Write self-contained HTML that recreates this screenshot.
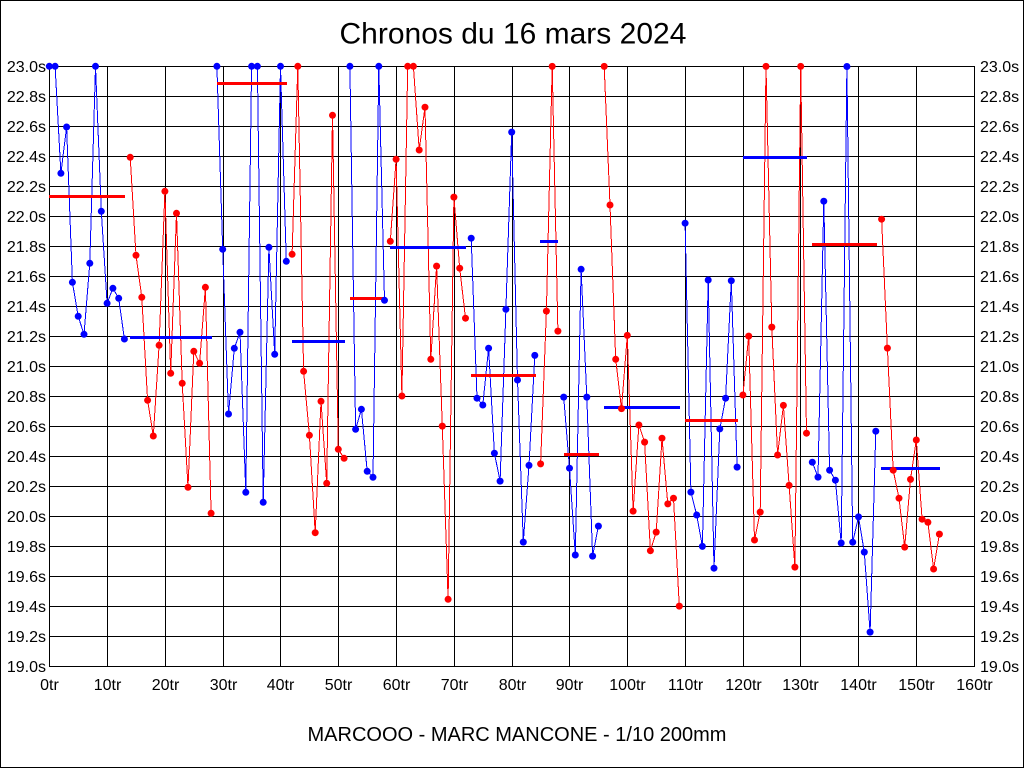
<!DOCTYPE html>
<html>
<head>
<meta charset="utf-8">
<style>
  html,body{margin:0;padding:0;background:#fff;}
  svg{display:block;}
  text{font-family:"Liberation Sans",Arial,sans-serif;fill:#000;}
</style>
</head>
<body>
<svg width="1024" height="768" viewBox="0 0 1024 768" xmlns="http://www.w3.org/2000/svg">
  <rect x="0" y="0" width="1024" height="768" fill="#fff"/>
  <rect x="0.5" y="0.5" width="1023" height="767" fill="none" stroke="#000" stroke-width="1"/>

  <text x="339.5" y="43.5" font-size="30">Chronos du 16 mars 2024</text>

  <!-- grid -->
  <g stroke="#000" stroke-width="1" shape-rendering="crispEdges">
    <line x1="49" y1="66.5" x2="975" y2="66.5"/>
    <line x1="49" y1="96.5" x2="975" y2="96.5"/>
    <line x1="49" y1="126.5" x2="975" y2="126.5"/>
    <line x1="49" y1="156.5" x2="975" y2="156.5"/>
    <line x1="49" y1="186.5" x2="975" y2="186.5"/>
    <line x1="49" y1="216.5" x2="975" y2="216.5"/>
    <line x1="49" y1="246.5" x2="975" y2="246.5"/>
    <line x1="49" y1="276.5" x2="975" y2="276.5"/>
    <line x1="49" y1="306.5" x2="975" y2="306.5"/>
    <line x1="49" y1="336.5" x2="975" y2="336.5"/>
    <line x1="49" y1="366.5" x2="975" y2="366.5"/>
    <line x1="49" y1="396.5" x2="975" y2="396.5"/>
    <line x1="49" y1="426.5" x2="975" y2="426.5"/>
    <line x1="49" y1="456.5" x2="975" y2="456.5"/>
    <line x1="49" y1="486.5" x2="975" y2="486.5"/>
    <line x1="49" y1="516.5" x2="975" y2="516.5"/>
    <line x1="49" y1="546.5" x2="975" y2="546.5"/>
    <line x1="49" y1="576.5" x2="975" y2="576.5"/>
    <line x1="49" y1="606.5" x2="975" y2="606.5"/>
    <line x1="49" y1="636.5" x2="975" y2="636.5"/>
    <line x1="49" y1="666.5" x2="975" y2="666.5"/>

    <line x1="49.5" y1="66" x2="49.5" y2="667"/>
    <line x1="107.5" y1="66" x2="107.5" y2="667"/>
    <line x1="165.5" y1="66" x2="165.5" y2="667"/>
    <line x1="223.5" y1="66" x2="223.5" y2="667"/>
    <line x1="280.5" y1="66" x2="280.5" y2="667"/>
    <line x1="338.5" y1="66" x2="338.5" y2="667"/>
    <line x1="396.5" y1="66" x2="396.5" y2="667"/>
    <line x1="454.5" y1="66" x2="454.5" y2="667"/>
    <line x1="512.5" y1="66" x2="512.5" y2="667"/>
    <line x1="569.5" y1="66" x2="569.5" y2="667"/>
    <line x1="627.5" y1="66" x2="627.5" y2="667"/>
    <line x1="685.5" y1="66" x2="685.5" y2="667"/>
    <line x1="743.5" y1="66" x2="743.5" y2="667"/>
    <line x1="800.5" y1="66" x2="800.5" y2="667"/>
    <line x1="858.5" y1="66" x2="858.5" y2="667"/>
    <line x1="916.5" y1="66" x2="916.5" y2="667"/>
    <line x1="974.5" y1="66" x2="974.5" y2="667"/>
  </g>

  <!-- left labels -->
  <g font-size="16" text-anchor="end">
    <text x="46" y="72">23.0s</text>
    <text x="46" y="102">22.8s</text>
    <text x="46" y="132">22.6s</text>
    <text x="46" y="162">22.4s</text>
    <text x="46" y="192">22.2s</text>
    <text x="46" y="222">22.0s</text>
    <text x="46" y="252">21.8s</text>
    <text x="46" y="282">21.6s</text>
    <text x="46" y="312">21.4s</text>
    <text x="46" y="342">21.2s</text>
    <text x="46" y="372">21.0s</text>
    <text x="46" y="402">20.8s</text>
    <text x="46" y="432">20.6s</text>
    <text x="46" y="462">20.4s</text>
    <text x="46" y="492">20.2s</text>
    <text x="46" y="522">20.0s</text>
    <text x="46" y="552">19.8s</text>
    <text x="46" y="582">19.6s</text>
    <text x="46" y="612">19.4s</text>
    <text x="46" y="642">19.2s</text>
    <text x="46" y="672">19.0s</text>
  </g>
  <!-- right labels -->
  <g font-size="16" text-anchor="start">
    <text x="980" y="72">23.0s</text>
    <text x="980" y="102">22.8s</text>
    <text x="980" y="132">22.6s</text>
    <text x="980" y="162">22.4s</text>
    <text x="980" y="192">22.2s</text>
    <text x="980" y="222">22.0s</text>
    <text x="980" y="252">21.8s</text>
    <text x="980" y="282">21.6s</text>
    <text x="980" y="312">21.4s</text>
    <text x="980" y="342">21.2s</text>
    <text x="980" y="372">21.0s</text>
    <text x="980" y="402">20.8s</text>
    <text x="980" y="432">20.6s</text>
    <text x="980" y="462">20.4s</text>
    <text x="980" y="492">20.2s</text>
    <text x="980" y="522">20.0s</text>
    <text x="980" y="552">19.8s</text>
    <text x="980" y="582">19.6s</text>
    <text x="980" y="612">19.4s</text>
    <text x="980" y="642">19.2s</text>
    <text x="980" y="672">19.0s</text>
  </g>
  <!-- x labels -->
  <g font-size="16" text-anchor="middle">
    <text x="49.5" y="690">0tr</text>
    <text x="107.5" y="690">10tr</text>
    <text x="165.5" y="690">20tr</text>
    <text x="223.5" y="690">30tr</text>
    <text x="280.5" y="690">40tr</text>
    <text x="338.5" y="690">50tr</text>
    <text x="396.5" y="690">60tr</text>
    <text x="454.5" y="690">70tr</text>
    <text x="512.5" y="690">80tr</text>
    <text x="569.5" y="690">90tr</text>
    <text x="627.5" y="690">100tr</text>
    <text x="685.5" y="690">110tr</text>
    <text x="743.5" y="690">120tr</text>
    <text x="800.5" y="690">130tr</text>
    <text x="858.5" y="690">140tr</text>
    <text x="916.5" y="690">150tr</text>
    <text x="974.5" y="690">160tr</text>
  </g>

  <text x="307.5" y="741" font-size="20">MARCOOO - MARC MANCONE - 1/10 200mm</text>

  <!-- series lines -->
  <g fill="none" stroke-width="1" stroke-linejoin="miter" shape-rendering="crispEdges">
    <polyline stroke="#0000ff" points="49.3,66.3 55.1,66.3 60.9,173.3 66.6,127 72.4,282.3 78.2,316.3 84,334.3 89.8,263.3 95.5,66.3 101.3,211.3 107.1,303.3 112.9,288.3 118.7,298.3 124.4,339"/>
    <polyline stroke="#ff0000" points="130.2,157.3 136,255.3 141.8,297.3 147.6,400.3 153.3,436 159.1,345.3 164.9,191.3 170.7,373.3 176.5,213.3 182.2,383.3 188,487.3 193.8,351.3 199.6,363.3 205.4,287.3 211.1,513.3"/>
    <polyline stroke="#0000ff" points="216.9,66.3 222.7,249.3 228.5,414 234.3,348.3 240,332.3 245.8,492.3 251.6,66.3 257.4,66.3 263.2,502.3 268.9,247.3 274.7,354.3 280.5,66.3 286.3,261.3"/>
    <polyline stroke="#ff0000" points="292.1,254.3 297.8,66.3 303.6,371.3 309.4,435.3 315.2,532.7 321,401.3 326.7,483.3 332.5,115.3 338.3,449.3 344.1,458.3"/>
    <polyline stroke="#0000ff" points="349.9,66.3 355.6,429.3 361.4,409.3 367.2,471.3 373,477.3 378.8,66.3 384.5,300.3"/>
    <polyline stroke="#ff0000" points="390.3,241.3 396.1,159.3 401.9,396 407.7,66.3 413.4,66.3 419.2,150 425,107.2 430.8,359.3 436.6,266.1 442.3,426.1 448.1,599.3 453.9,197.1 459.7,268.2 465.5,318.2"/>
    <polyline stroke="#0000ff" points="471.2,238.2 477,398.2 482.8,405 488.6,348.2 494.4,453.2 500.1,481.1 505.9,309.3 511.7,132.1 517.5,380 523.3,542.1 529,465.4 534.8,355.4"/>
    <polyline stroke="#ff0000" points="540.6,463.9 546.4,311.1 552.2,66.4 557.9,331.1"/>
    <polyline stroke="#0000ff" points="563.7,397.1 569.5,468.2 575.3,555 581.1,269.3 586.8,397.1 592.6,556.1 598.4,526.1"/>
    <polyline stroke="#ff0000" points="604.2,66.4 610,205 615.7,359.3 621.5,408.6 627.3,335.4 633.1,511.1 638.9,425 644.6,442.1 650.4,550.7 656.2,532.1 662,438.2 667.8,503.9 673.5,498.2 679.3,606.1"/>
    <polyline stroke="#0000ff" points="685.1,223.2 690.9,492.1 696.7,515 702.4,546.4 708.2,280 714,568.2 719.8,428.9 725.6,398.2 731.3,280.7 737.1,467.1"/>
    <polyline stroke="#ff0000" points="742.9,395 748.7,336.1 754.5,540 760.2,512.1 766,66.4 771.8,327.1 777.6,455 783.4,405.4 789.1,485.4 794.9,567.1 800.7,66.4 806.5,433.2"/>
    <polyline stroke="#0000ff" points="812.3,462.2 818,477.1 823.8,201.2 829.6,470.2 835.4,480.2 841.2,543 846.9,66.5 852.7,542.2 858.5,516.9 864.3,552.1 870.1,632.1 875.8,431.2"/>
    <polyline stroke="#ff0000" points="881.6,219.2 887.4,348.1 893.2,470.2 899,498.2 904.7,547.1 910.5,479.4 916.3,440 922.1,519.2 927.9,522.3 933.6,569 939.4,534.1"/>
  </g>

  <!-- mean bars -->
  <g stroke-width="3" shape-rendering="crispEdges">
    <line stroke="#ff0000" x1="49" y1="196.5" x2="125" y2="196.5"/>
    <line stroke="#0000ff" x1="130" y1="337.5" x2="212" y2="337.5"/>
    <line stroke="#ff0000" x1="217" y1="83.5" x2="287" y2="83.5"/>
    <line stroke="#0000ff" x1="292" y1="341.5" x2="345" y2="341.5"/>
    <line stroke="#ff0000" x1="350" y1="298.5" x2="385" y2="298.5"/>
    <line stroke="#0000ff" x1="390" y1="247.5" x2="466" y2="247.5"/>
    <line stroke="#ff0000" x1="471" y1="375.5" x2="536" y2="375.5"/>
    <line stroke="#0000ff" x1="540" y1="241.5" x2="558" y2="241.5"/>
    <line stroke="#ff0000" x1="564" y1="454.5" x2="599" y2="454.5"/>
    <line stroke="#0000ff" x1="604" y1="407.5" x2="680" y2="407.5"/>
    <line stroke="#ff0000" x1="685" y1="420.5" x2="738" y2="420.5"/>
    <line stroke="#0000ff" x1="743" y1="157.5" x2="807" y2="157.5"/>
    <line stroke="#ff0000" x1="812" y1="244.5" x2="877" y2="244.5"/>
    <line stroke="#0000ff" x1="881" y1="468.5" x2="940" y2="468.5"/>
  </g>

  <!-- markers -->
  <g fill="#0000ff">
    <circle cx="49.3" cy="66.3" r="3.5"/><circle cx="55.1" cy="66.3" r="3.5"/><circle cx="60.9" cy="173.3" r="3.5"/><circle cx="66.6" cy="127" r="3.5"/><circle cx="72.4" cy="282.3" r="3.5"/><circle cx="78.2" cy="316.3" r="3.5"/><circle cx="84" cy="334.3" r="3.5"/><circle cx="89.8" cy="263.3" r="3.5"/><circle cx="95.5" cy="66.3" r="3.5"/><circle cx="101.3" cy="211.3" r="3.5"/><circle cx="107.1" cy="303.3" r="3.5"/><circle cx="112.9" cy="288.3" r="3.5"/><circle cx="118.7" cy="298.3" r="3.5"/><circle cx="124.4" cy="339" r="3.5"/>
    <circle cx="216.9" cy="66.3" r="3.5"/><circle cx="222.7" cy="249.3" r="3.5"/><circle cx="228.5" cy="414" r="3.5"/><circle cx="234.3" cy="348.3" r="3.5"/><circle cx="240" cy="332.3" r="3.5"/><circle cx="245.8" cy="492.3" r="3.5"/><circle cx="251.6" cy="66.3" r="3.5"/><circle cx="257.4" cy="66.3" r="3.5"/><circle cx="263.2" cy="502.3" r="3.5"/><circle cx="268.9" cy="247.3" r="3.5"/><circle cx="274.7" cy="354.3" r="3.5"/><circle cx="280.5" cy="66.3" r="3.5"/><circle cx="286.3" cy="261.3" r="3.5"/>
    <circle cx="349.9" cy="66.3" r="3.5"/><circle cx="355.6" cy="429.3" r="3.5"/><circle cx="361.4" cy="409.3" r="3.5"/><circle cx="367.2" cy="471.3" r="3.5"/><circle cx="373" cy="477.3" r="3.5"/><circle cx="378.8" cy="66.3" r="3.5"/><circle cx="384.5" cy="300.3" r="3.5"/>
    <circle cx="471.2" cy="238.2" r="3.5"/><circle cx="477" cy="398.2" r="3.5"/><circle cx="482.8" cy="405" r="3.5"/><circle cx="488.6" cy="348.2" r="3.5"/><circle cx="494.4" cy="453.2" r="3.5"/><circle cx="500.1" cy="481.1" r="3.5"/><circle cx="505.9" cy="309.3" r="3.5"/><circle cx="511.7" cy="132.1" r="3.5"/><circle cx="517.5" cy="380" r="3.5"/><circle cx="523.3" cy="542.1" r="3.5"/><circle cx="529" cy="465.4" r="3.5"/><circle cx="534.8" cy="355.4" r="3.5"/>
    <circle cx="563.7" cy="397.1" r="3.5"/><circle cx="569.5" cy="468.2" r="3.5"/><circle cx="575.3" cy="555" r="3.5"/><circle cx="581.1" cy="269.3" r="3.5"/><circle cx="586.8" cy="397.1" r="3.5"/><circle cx="592.6" cy="556.1" r="3.5"/><circle cx="598.4" cy="526.1" r="3.5"/>
    <circle cx="685.1" cy="223.2" r="3.5"/><circle cx="690.9" cy="492.1" r="3.5"/><circle cx="696.7" cy="515" r="3.5"/><circle cx="702.4" cy="546.4" r="3.5"/><circle cx="708.2" cy="280" r="3.5"/><circle cx="714" cy="568.2" r="3.5"/><circle cx="719.8" cy="428.9" r="3.5"/><circle cx="725.6" cy="398.2" r="3.5"/><circle cx="731.3" cy="280.7" r="3.5"/><circle cx="737.1" cy="467.1" r="3.5"/>
    <circle cx="812.3" cy="462.2" r="3.5"/><circle cx="818" cy="477.1" r="3.5"/><circle cx="823.8" cy="201.2" r="3.5"/><circle cx="829.6" cy="470.2" r="3.5"/><circle cx="835.4" cy="480.2" r="3.5"/><circle cx="841.2" cy="543" r="3.5"/><circle cx="846.9" cy="66.5" r="3.5"/><circle cx="852.7" cy="542.2" r="3.5"/><circle cx="858.5" cy="516.9" r="3.5"/><circle cx="864.3" cy="552.1" r="3.5"/><circle cx="870.1" cy="632.1" r="3.5"/><circle cx="875.8" cy="431.2" r="3.5"/>
  </g>
  <g fill="#ff0000">
    <circle cx="130.2" cy="157.3" r="3.5"/><circle cx="136" cy="255.3" r="3.5"/><circle cx="141.8" cy="297.3" r="3.5"/><circle cx="147.6" cy="400.3" r="3.5"/><circle cx="153.3" cy="436" r="3.5"/><circle cx="159.1" cy="345.3" r="3.5"/><circle cx="164.9" cy="191.3" r="3.5"/><circle cx="170.7" cy="373.3" r="3.5"/><circle cx="176.5" cy="213.3" r="3.5"/><circle cx="182.2" cy="383.3" r="3.5"/><circle cx="188" cy="487.3" r="3.5"/><circle cx="193.8" cy="351.3" r="3.5"/><circle cx="199.6" cy="363.3" r="3.5"/><circle cx="205.4" cy="287.3" r="3.5"/><circle cx="211.1" cy="513.3" r="3.5"/>
    <circle cx="292.1" cy="254.3" r="3.5"/><circle cx="297.8" cy="66.3" r="3.5"/><circle cx="303.6" cy="371.3" r="3.5"/><circle cx="309.4" cy="435.3" r="3.5"/><circle cx="315.2" cy="532.7" r="3.5"/><circle cx="321" cy="401.3" r="3.5"/><circle cx="326.7" cy="483.3" r="3.5"/><circle cx="332.5" cy="115.3" r="3.5"/><circle cx="338.3" cy="449.3" r="3.5"/><circle cx="344.1" cy="458.3" r="3.5"/>
    <circle cx="390.3" cy="241.3" r="3.5"/><circle cx="396.1" cy="159.3" r="3.5"/><circle cx="401.9" cy="396" r="3.5"/><circle cx="407.7" cy="66.3" r="3.5"/><circle cx="413.4" cy="66.3" r="3.5"/><circle cx="419.2" cy="150" r="3.5"/><circle cx="425" cy="107.2" r="3.5"/><circle cx="430.8" cy="359.3" r="3.5"/><circle cx="436.6" cy="266.1" r="3.5"/><circle cx="442.3" cy="426.1" r="3.5"/><circle cx="448.1" cy="599.3" r="3.5"/><circle cx="453.9" cy="197.1" r="3.5"/><circle cx="459.7" cy="268.2" r="3.5"/><circle cx="465.5" cy="318.2" r="3.5"/>
    <circle cx="540.6" cy="463.9" r="3.5"/><circle cx="546.4" cy="311.1" r="3.5"/><circle cx="552.2" cy="66.4" r="3.5"/><circle cx="557.9" cy="331.1" r="3.5"/>
    <circle cx="604.2" cy="66.4" r="3.5"/><circle cx="610" cy="205" r="3.5"/><circle cx="615.7" cy="359.3" r="3.5"/><circle cx="621.5" cy="408.6" r="3.5"/><circle cx="627.3" cy="335.4" r="3.5"/><circle cx="633.1" cy="511.1" r="3.5"/><circle cx="638.9" cy="425" r="3.5"/><circle cx="644.6" cy="442.1" r="3.5"/><circle cx="650.4" cy="550.7" r="3.5"/><circle cx="656.2" cy="532.1" r="3.5"/><circle cx="662" cy="438.2" r="3.5"/><circle cx="667.8" cy="503.9" r="3.5"/><circle cx="673.5" cy="498.2" r="3.5"/><circle cx="679.3" cy="606.1" r="3.5"/>
    <circle cx="742.9" cy="395" r="3.5"/><circle cx="748.7" cy="336.1" r="3.5"/><circle cx="754.5" cy="540" r="3.5"/><circle cx="760.2" cy="512.1" r="3.5"/><circle cx="766" cy="66.4" r="3.5"/><circle cx="771.8" cy="327.1" r="3.5"/><circle cx="777.6" cy="455" r="3.5"/><circle cx="783.4" cy="405.4" r="3.5"/><circle cx="789.1" cy="485.4" r="3.5"/><circle cx="794.9" cy="567.1" r="3.5"/><circle cx="800.7" cy="66.4" r="3.5"/><circle cx="806.5" cy="433.2" r="3.5"/>
    <circle cx="881.6" cy="219.2" r="3.5"/><circle cx="887.4" cy="348.1" r="3.5"/><circle cx="893.2" cy="470.2" r="3.5"/><circle cx="899" cy="498.2" r="3.5"/><circle cx="904.7" cy="547.1" r="3.5"/><circle cx="910.5" cy="479.4" r="3.5"/><circle cx="916.3" cy="440" r="3.5"/><circle cx="922.1" cy="519.2" r="3.5"/><circle cx="927.9" cy="522.3" r="3.5"/><circle cx="933.6" cy="569" r="3.5"/><circle cx="939.4" cy="534.1" r="3.5"/>
  </g>
</svg>
</body>
</html>
